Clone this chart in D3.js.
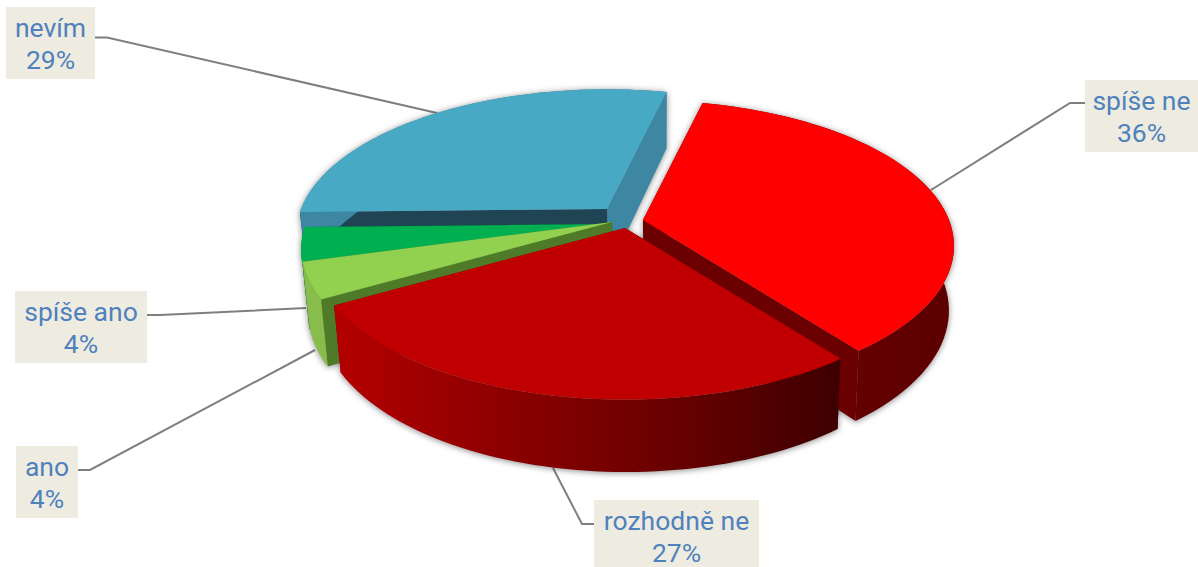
<!DOCTYPE html>
<html lang="cs">
<head>
<meta charset="utf-8">
<script src="https://cdn.jsdelivr.net/npm/d3@7/dist/d3.min.js"></script>
<style>
html,body{margin:0;padding:0;background:#fff;overflow:hidden}
svg{display:block}
text{font-family:Roboto,sans-serif;font-size:26.5px;fill:#4f81bd;text-anchor:middle}
</style>
</head>
<body>
<svg id="c" width="1198" height="567"></svg>
<script>
// Data, in chart order (clockwise)
const categories = ["ano", "spíše ano", "nevím", "spíše ne", "rozhodně ne"];
const values = [4, 4, 29, 36, 27];

// Styles
const topColors   = ["#92d050", "#00b050", "#47a9c4", "#ff0000", "#c00000"];
const outerColors = ["#88bd4c", "#00873d", "#3d87a3", "url(#wallRed)", "url(#wallDark)"];
const startWallColors = ["#4f7a28", "#0d4d2c", "#1f4555", "#6a0000", "#6e0000"];
const endWallColors   = ["#4f7a28", "#0d4d2c", "#3d87a3", "#6a0000", "#6e0000"];

// Layout of each slice: screen displacement of the exploded slice, paint order, label box
const sliceShift = [[0, 0], [0, 2], [-5, -13], [31, -2], [13, 6]];
const paintOrder = [2, 3, 1, 0, 4];
const labelBoxes = [[16, 446, 62, 72], [15, 291, 132, 72], [6, 7, 89, 72], [1085, 80, 113, 72], [594, 500, 165, 72]];
const leaders = [
  [[78, 470], [90, 470], [315, 350]],
  [[147, 315], [160, 315], [306, 308]],
  [[95, 37.5], [107, 37.5], [437, 113]],
  [[1085, 103], [1070, 103], [931, 190]],
  [[594, 524], [582, 524], [553, 468]]
];

const deg = Math.PI / 180;
const arcs = d3.pie().sort(null).startAngle(240 * deg).endAngle(600 * deg)(values);

// Perspective planes of the disc's top and bottom faces
const planes = {
  top:    {x: d3.scaleLinear().domain([-1, 1]).range([612 - 306, 612 + 306]),
           y: d3.scaleLinear().domain([-1, 1]).range([222 - 141, 222 + 141]), k: 0.178},
  bottom: {x: d3.scaleLinear().domain([-1, 1]).range([613 - 300, 613 + 300]),
           y: d3.scaleLinear().domain([-1, 1]).range([285 - 148.6, 285 + 148.6]), k: 0.179}
};
const project = (plane, r, a, shift) => {
  const X = r * Math.sin(a), Y = -r * Math.cos(a), w = 1 - plane.k * Y;
  return [plane.x(X / w) + shift[0], plane.y(Y / w) + shift[1]];
};
const rim = (plane, d, shift) => d3.range(0, 61).map(i =>
  project(plane, 1, d.startAngle + (d.endAngle - d.startAngle) * i / 60, shift));
const line = d3.line();
const closed = pts => line(pts) + "Z";

const svg = d3.select("#c");
const defs = svg.append("defs");
const gradient = (id, x1, x2, stops) => {
  const g = defs.append("linearGradient").attr("id", id)
    .attr("gradientUnits", "userSpaceOnUse")
    .attr("x1", x1).attr("x2", x2).attr("y1", 0).attr("y2", 0);
  stops.forEach(([o, c]) => g.append("stop").attr("offset", o).attr("stop-color", c));
};
gradient("wallDark", 333, 838, [[0, "#b40000"], [0.4, "#860000"], [0.7, "#660000"], [1, "#3e0000"]]);
gradient("wallRed", 850, 955, [[0, "#640000"], [1, "#5c0000"]]);

// Leader lines
svg.append("g").selectAll("path").data(leaders).join("path")
  .attr("d", d => line(d))
  .attr("fill", "none").attr("stroke", "#7f7f7f").attr("stroke-width", 2);

// Slices
const pie = svg.append("g").style("filter", "drop-shadow(0 1px 3px rgba(40,40,40,.55))");
paintOrder.forEach(i => {
  const d = arcs[i], s = sliceShift[i];
  const g = pie.append("g");
  const apexT = project(planes.top, 0, 0, s), apexB = project(planes.bottom, 0, 0, s);
  const startT = project(planes.top, 1, d.startAngle, s), startB = project(planes.bottom, 1, d.startAngle, s);
  const endT = project(planes.top, 1, d.endAngle, s), endB = project(planes.bottom, 1, d.endAngle, s);
  g.append("path").attr("d", closed([apexT, endT, endB, apexB])).attr("fill", endWallColors[i]);
  g.append("path").attr("d", closed([apexT, startT, startB, apexB])).attr("fill", startWallColors[i]);
  g.append("path")
    .attr("d", closed(rim(planes.top, d, s).concat(rim(planes.bottom, d, s).reverse())))
    .attr("fill", outerColors[i]);
  g.append("path")
    .attr("d", closed([apexT].concat(rim(planes.top, d, s))))
    .attr("fill", topColors[i]);
});

// Labels
categories.forEach((name, i) => {
  const [x, y, w, h] = labelBoxes[i];
  svg.append("rect").attr("x", x).attr("y", y).attr("width", w).attr("height", h).attr("fill", "#eeece1");
  const cx = x + w / 2;
  svg.append("text").attr("x", cx).attr("y", y + 30).text(name);
  svg.append("text").attr("x", cx).attr("y", y + 62).text(values[i] + "%");
});
</script>
</body>
</html>
